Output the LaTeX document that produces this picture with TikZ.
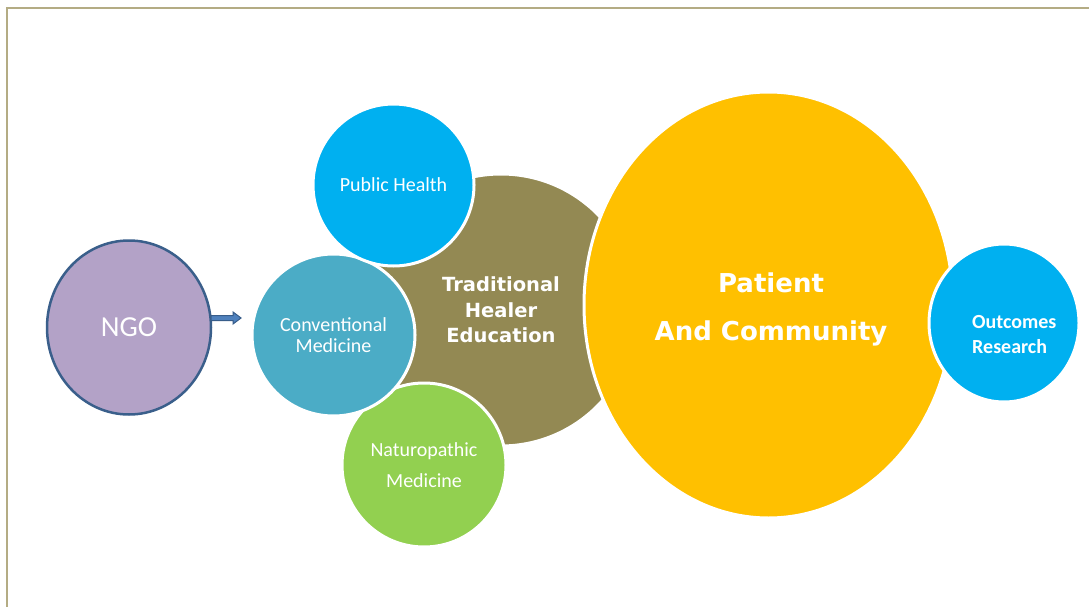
\documentclass[tikz,border=0pt]{standalone}
\usepackage{fontspec}
\setmainfont{Carlito}
\newfontfamily\heavyfont{DejaVu Sans}
\usetikzlibrary{shapes.geometric}

\definecolor{ngofill}{HTML}{B3A2C7}
\definecolor{ngoline}{HTML}{3A5F8B}
\definecolor{tealfill}{HTML}{4BACC6}
\definecolor{skyfill}{HTML}{00B0F0}
\definecolor{olivefill}{HTML}{938953}
\definecolor{goldfill}{HTML}{FFC000}
\definecolor{leaffill}{HTML}{92D050}
\definecolor{arrowfill}{HTML}{4F81BD}
\definecolor{arrowline}{HTML}{385D8A}
\definecolor{framecol}{HTML}{B4AC84}

\tikzset{
  bubble/.style={ellipse, draw=white, line width=3pt, inner sep=0pt,
    text=white, align=center},
  softtext/.style={font=\fontsize{20}{21}\selectfont},
  heavytext/.style={font=\heavyfont\bfseries\fontsize{19.5}{25.5}\selectfont},
  blockarrow/.style={fill=arrowfill, draw=arrowline, line width=1pt, line join=miter}
}

\begin{document}
\begin{tikzpicture}[x=1pt, y=-1pt]
  \useasboundingbox (0,0) rectangle (1089,607);
  \fill[white] (0,0) rectangle (1089,607);

  % page frame
  \draw[framecol, line width=2pt] (7,607) -- (7,8) -- (1089,8);

  % NGO bubble and its arrow
  \node[ellipse, draw=ngoline, fill=ngofill, line width=2.5pt, inner sep=0pt,
        minimum width=164pt, minimum height=174pt, text=white,
        font=\fontsize{29}{30}\selectfont] (ngo) at (129,327.5) {NGO};
  \coordinate (arrowtip) at (241,318);
  \draw[blockarrow] (ngo.east |- arrowtip) ++(-1,-2.5) -- (233,315.5) -- (233,312)
        -- (arrowtip) -- (233,324) -- (233,320.5) -- (211,320.5) -- cycle;

  % central cluster
  \node[bubble, fill=olivefill, minimum width=272pt, minimum height=272pt,
        heavytext] (healer) at (501,310)
        {Traditional\\Healer\\Education};
  \node[bubble, fill=leaffill, minimum width=164pt, minimum height=164pt,
        font=\fontsize{20}{31}\selectfont] (naturo) at (424,465)
        {Naturopathic\\Medicine};
  \node[bubble, fill=tealfill, minimum width=163pt, minimum height=162pt,
        softtext] (conv) at (333.5,335) {Conventional\\Medicine};
  \node[bubble, fill=skyfill, minimum width=161pt, minimum height=162pt,
        softtext] (public) at (393.5,185) {Public Health};

  % patient and community
  \node[bubble, fill=goldfill, minimum width=369pt, minimum height=426pt] (patient) at (768.5,305) {};
  \node[inner sep=0pt, text=white, align=center,
        font=\heavyfont\bfseries\fontsize{26}{48}\selectfont] (patienttext) at (771,309)
        {Patient\\And Community};

  % outcomes
  \node[bubble, fill=skyfill, minimum width=150pt, minimum height=158pt] (outcomes) at (1004,323) {};
  \node[anchor=west, inner sep=0pt, text=white, align=left,
        font=\bfseries\fontsize{20}{25}\selectfont] (outtext) at (972,334.5)
        {Outcomes\\Research};
\end{tikzpicture}
\end{document}
